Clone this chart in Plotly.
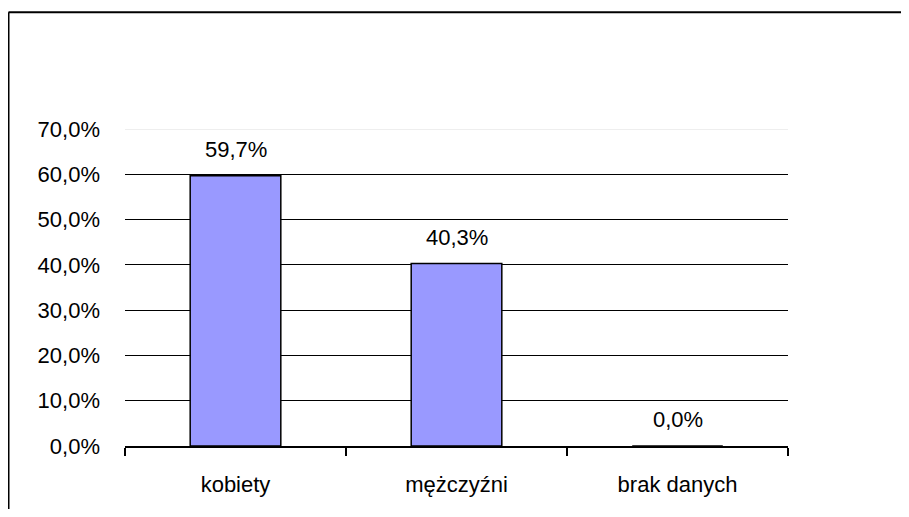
import plotly.graph_objects as go

categories = ["kobiety", "mężczyźni", "brak danych"]
values = [59.7, 40.3, 0.0]
y_ticks = [0, 10, 20, 30, 40, 50, 60, 70]

FONT = "Liberation Sans, Arial, sans-serif"

def pct(v):
    return f"{v:.1f}%".replace(".", ",")

fig = go.Figure()
fig.add_trace(go.Bar(
    x=categories, y=values,
    marker=dict(color="#9999FF", line=dict(color="black", width=1.5)),
    hoverinfo="skip",
))

for c, v in zip(categories, values):
    fig.add_annotation(x=c, y=v, text=pct(v), showarrow=False, yanchor="bottom",
                       yshift=12, font=dict(family=FONT, size=22, color="black"))

fig.update_layout(
    width=893, height=501,
    margin=dict(l=117, r=113, t=121, b=61),
    paper_bgcolor="white", plot_bgcolor="white",
    bargap=0.59,
    showlegend=False,
    font=dict(family=FONT, size=22, color="black"),
    xaxis=dict(
        showline=True, linecolor="black", linewidth=1.5,
        ticks="outside", tickson="boundaries", ticklen=8, tickcolor="black", tickwidth=1.5,
        showgrid=False, ticklabelstandoff=18,
        tickfont=dict(family=FONT, size=22, color="black"),
    ),
    yaxis=dict(
        range=[0, 70], tickvals=y_ticks, ticktext=[pct(v) for v in y_ticks],
        showgrid=True, gridcolor="black", gridwidth=1.3,
        zeroline=False, showline=False, ticks="",
        ticklabelstandoff=24,
        tickfont=dict(family=FONT, size=22, color="black"),
    ),
)

# light top gridline over the 70% line
fig.add_shape(type="line", xref="paper", yref="y", x0=0, x1=1, y0=y_ticks[-1], y1=y_ticks[-1],
              line=dict(color="#eeeeee", width=2), layer="above")

# outer chart border: only the left and top edges fall inside the visible area
fig.add_shape(type="line", xref="paper", yref="paper",
              x0=-0.1757, x1=1.5, y0=1.368, y1=1.368,
              line=dict(color="black", width=2), layer="below")
fig.add_shape(type="line", xref="paper", yref="paper",
              x0=-0.1757, x1=-0.1757, y0=-0.5, y1=1.368,
              line=dict(color="black", width=2), layer="below")

fig.write_html("out.html")
